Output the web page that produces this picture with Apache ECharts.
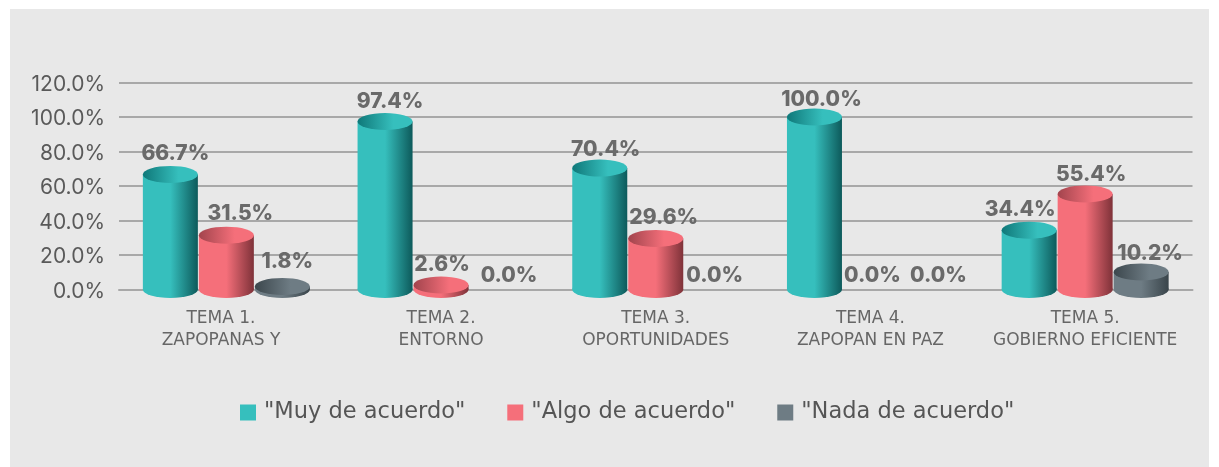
<!DOCTYPE html>
<html><head><meta charset="utf-8">
<style>html,body{margin:0;padding:0;background:#fff}#c{width:1219px;height:467px}</style>
<script src="https://cdn.jsdelivr.net/npm/echarts@6/dist/echarts.min.js"></script>
</head><body><div id="c"></div>
<script>
const categories = ['TEMA 1.  \nZAPOPANAS Y  ', 'TEMA 2.\nENTORNO', 'TEMA 3.\nOPORTUNIDADES', 'TEMA 4.\nZAPOPAN EN PAZ', 'TEMA 5.\nGOBIERNO EFICIENTE'];
const seriesNames = ['"Muy de acuerdo"', '"Algo de acuerdo"', '"Nada de acuerdo"'];
const muy = [66.7, 97.4, 70.4, 100.0, 34.4];
const algo = [31.5, 2.6, 29.6, 0.0, 55.4];
const nada = [1.8, 0.0, 0.0, 0.0, 10.2];
const labelShift = [
  [[5, -1], [5, 0], [6, 1], [7, 2], [-9, -1]],
  [[14, -2], [1, -1], [8, -1], [2, 6], [6, 0]],
  [[5, -5], [12, 6], [3, 6], [12, 6], [9, 1]]
];
const palette = [
  {base: '#36bfbd', dark: '#0d5a5b', capDark: '#0f7879'},
  {base: '#f56f7a', dark: '#7f3239', capDark: '#a2444d'},
  {base: '#6e7c84', dark: '#39444a', capDark: '#3c474d'}
];
const all = [muy, algo, nada];
const BW = 55, CAP = 17, STEP = 56;
const grad = (stops) => ({type: 'linear', x: 0, y: 0, x2: 1, y2: 0, colorStops: stops});
const bodyGrad = p => grad([{offset: 0, color: p.base}, {offset: 0.5, color: p.base}, {offset: 1, color: p.dark}]);
const capGrad = p => grad([{offset: 0, color: p.capDark}, {offset: 0.65, color: p.base}, {offset: 1, color: p.base}]);
const series = [];
all.forEach((vals, i) => {
  const p = palette[i];
  const dx = (i - 1) * STEP;
  const caps = () => vals.map(v => v > 0 ? {value: v} : {value: v, symbol: 'none'});
  series.push({
    name: seriesNames[i], type: 'pictorialBar', data: caps(), symbol: 'circle',
    symbolSize: [BW, CAP], symbolPosition: 'start', symbolOffset: [dx, CAP / 2], barWidth: BW, barGap: '-100%',
    itemStyle: {color: bodyGrad(p)}, z: 2, silent: true
  });
  series.push({
    name: seriesNames[i], type: 'bar', data: vals.map((v, k) => ({
      value: v,
      label: {offset: labelShift[i][k]}
    })),
    barWidth: BW, barGap: '1.8%', itemStyle: {color: bodyGrad(p)}, z: 3,
    label: {show: true, position: 'top', distance: 9, formatter: d => d.value.toFixed(1) + '%',
      fontFamily: 'Inter', fontWeight: 800, fontSize: 21, color: '#6a6a6a'}
  });
  series.push({
    name: seriesNames[i], type: 'pictorialBar', data: caps(), symbol: 'circle',
    symbolSize: [BW, CAP], symbolPosition: 'end', symbolOffset: [dx, -CAP / 2], barWidth: BW, barGap: '-100%',
    itemStyle: {color: capGrad(p)}, z: 4, silent: true
  });
});
const chart = echarts.init(document.getElementById('c'));
chart.setOption({
  animation: false,
  backgroundColor: '#ffffff',
  graphic: [{type: 'rect', z: -10, silent: true, shape: {x: 10, y: 9, width: 1199, height: 458}, style: {fill: '#e8e8e8'}}],
  grid: {left: 119, right: 26.5, top: 82.5, height: 207},
  legend: {
    left: 235, top: 396, itemWidth: 16, itemHeight: 16, itemGap: 42, icon: 'rect',
    data: seriesNames.map((n, i) => ({name: n, itemStyle: {color: palette[i].base}})),
    textStyle: {fontFamily: 'DejaVu Sans', fontSize: 22.5, color: '#555555', padding: [0, 0, 0, 3]}
  },
  xAxis: {
    type: 'category', data: categories,
    axisTick: {show: false},
    axisLine: {lineStyle: {color: '#a8a8a8', width: 2}},
    axisLabel: {fontFamily: 'DejaVu Sans', fontSize: 17, color: '#666666', lineHeight: 22, margin: 18, interval: 0}
  },
  yAxis: {
    type: 'value', min: 0, max: 120, interval: 20,
    axisLine: {show: false}, axisTick: {show: false},
    axisLabel: {formatter: v => v.toFixed(1) + '%', fontFamily: 'Inter', fontSize: 21, color: '#595959', margin: 14, verticalAlign: 'top', lineHeight: 4},
    splitLine: {lineStyle: {color: '#a8a8a8', width: 2}}
  },
  series
});
</script></body></html>
